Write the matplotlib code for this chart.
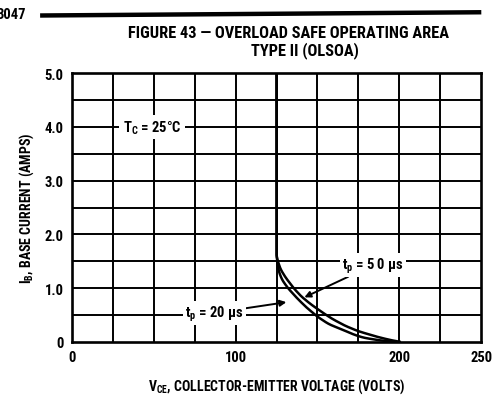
import matplotlib
matplotlib.use("Agg")
import matplotlib.pyplot as plt
import numpy as np

plt.rcParams['font.family'] = ['Roboto Condensed', 'Archivo Narrow', 'PT Sans Narrow', 'DejaVu Sans']
plt.rcParams['font.weight'] = 'bold'
plt.rcParams['mathtext.default'] = 'regular'

# Boundary curves (V_CE in volts, I_B in amps)
vce_upper = [125, 125, 125.8, 127.5, 130.5, 135.5, 140, 146, 153, 159, 167, 175, 186, 194, 201]
ib_upper = [5.0, 1.6, 1.5, 1.35, 1.2, 1.0, 0.85, 0.7, 0.55, 0.43, 0.3, 0.2, 0.1, 0.04, 0.0]
vce_lower = [125, 125, 125.5, 126.5, 128.5, 132, 138, 143, 150, 157, 166, 172, 178, 188, 198]
ib_lower = [5.0, 1.6, 1.5, 1.3, 1.15, 1.0, 0.8, 0.65, 0.47, 0.33, 0.22, 0.14, 0.08, 0.03, 0.0]

x_ticks = [0, 100, 200, 250]
x_tick_labels = ['0', '100', '200', '250']
y_ticks = [0, 1, 2, 3, 4, 5]
y_tick_labels = ['0', '1.0', '2.0', '3.0', '4.0', '5.0']

fig = plt.figure(figsize=(4.98, 4.02), dpi=100)
ax = fig.add_axes([0.1446, 0.1468, 0.8214, 0.669])
ax.set_xlim(0, 250)
ax.set_ylim(0, 5)

# Grid
for gx in np.arange(25, 250, 25):
    ax.axvline(gx, color='black', lw=1.4, zorder=1)
for gy in np.arange(0.5, 5.0, 0.5):
    ax.axhline(gy, color='black', lw=1.4, zorder=1)
for s in ax.spines.values():
    s.set_linewidth(1.9)

ax.set_xticks(x_ticks)
ax.set_xticklabels(x_tick_labels)
ax.set_yticks(y_ticks)
ax.set_yticklabels(y_tick_labels)
ax.tick_params(length=0, labelsize=10.5, pad=6)
for lab in ax.get_xticklabels() + ax.get_yticklabels():
    lab.set_fontweight('bold')


def smooth(v, i, n=400):
    # parametric smoothing along cumulative length of the polyline
    v = np.asarray(v, float)
    i = np.asarray(i, float)
    d = np.r_[0, np.cumsum(np.hypot(np.diff(v) / 25, np.diff(i) / 0.5))]
    t = np.linspace(0, d[-1], n)
    vv = np.interp(t, d, v)
    ii = np.interp(t, d, i)
    k = 9
    ker = np.ones(k) / k
    vv[k:-k] = np.convolve(vv, ker, mode='same')[k:-k]
    ii[k:-k] = np.convolve(ii, ker, mode='same')[k:-k]
    return vv, ii


for v, i in ((vce_upper, ib_upper), (vce_lower, ib_lower)):
    sv, si = smooth(v, i)
    ax.plot(sv, si, color='black', lw=1.8, zorder=3, solid_capstyle='butt')

fs = 10.5
ax.text(49, 4.0, 'T$_{C}$ = 25°C', ha='center', va='center', fontsize=fs,
        fontweight='bold', zorder=4,
        bbox=dict(facecolor='white', edgecolor='none', pad=2.5))
ax.annotate('t$_{p}$ = 5 0 µs', xy=(142, 0.83), xytext=(184, 1.43),
            ha='center', va='center', fontsize=fs, fontweight='bold', zorder=4,
            bbox=dict(facecolor='white', edgecolor='none', pad=1.5),
            arrowprops=dict(arrowstyle='-|>', color='black', lw=1.4,
                            shrinkA=0, shrinkB=0, mutation_scale=9))
ax.annotate('t$_{p}$ = 20 µs', xy=(131, 0.74), xytext=(87, 0.54),
            ha='center', va='center', fontsize=fs, fontweight='bold', zorder=4,
            bbox=dict(facecolor='white', edgecolor='none', pad=1.5),
            arrowprops=dict(arrowstyle='-|>', color='black', lw=1.4,
                            shrinkA=0, shrinkB=0, mutation_scale=9))

ax.set_xlabel('V$_{CE}$, COLLECTOR-EMITTER VOLTAGE (VOLTS)',
              fontsize=10, fontweight='bold', labelpad=9)
ax.set_ylabel('I$_{B}$, BASE CURRENT (AMPS)',
              fontsize=10, fontweight='bold', labelpad=6)

# Header
fig.text(0.580, 0.916, 'FIGURE 43 — OVERLOAD SAFE OPERATING AREA',
         ha='center', va='center', fontsize=11.8, fontweight='bold')
fig.text(0.612, 0.874, 'TYPE II (OLSOA)', ha='center', va='center',
         fontsize=11.8, fontweight='bold')
fig.text(-0.006, 0.962, '3047', ha='left', va='center', fontsize=10.5, fontweight='bold')
fig.add_artist(plt.Line2D([0.085, 0.962], [0.959, 0.967], color='black', lw=3.2))

fig.savefig('out.png', dpi=100)
